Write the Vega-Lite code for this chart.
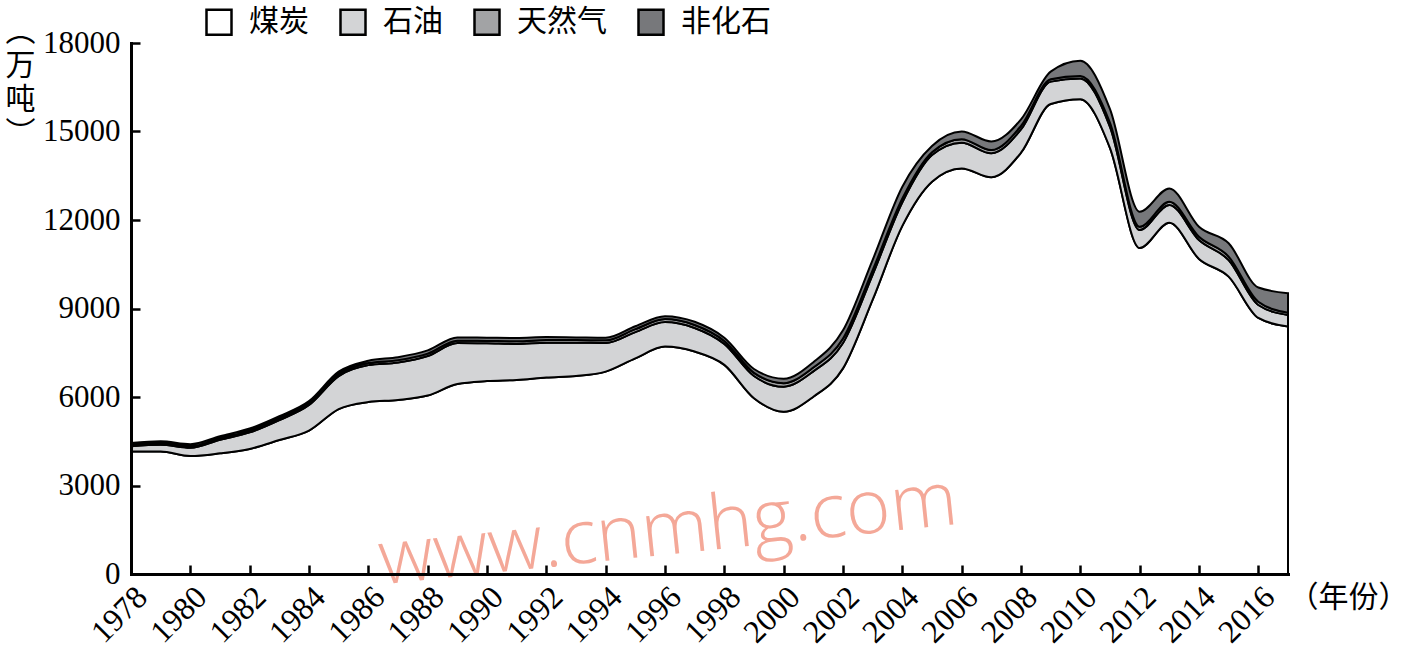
{
  "$schema": "https://vega.github.io/schema/vega-lite/v6.json",
  "width": 1157,
  "height": 531,
  "autosize": {"type": "none"},
  "padding": {"left": 131, "top": 43, "right": 118, "bottom": 77},
  "background": "white",
  "config": {"view": {"stroke": null}},
  "datasets": {
    "energy": [
      {"year":1978,"type":"煤炭","k":1,"v":4150},{"year":1978,"type":"石油","k":2,"v":180},{"year":1978,"type":"天然气","k":3,"v":50},{"year":1978,"type":"非化石","k":4,"v":60},
      {"year":1979,"type":"煤炭","k":1,"v":4150},{"year":1979,"type":"石油","k":2,"v":230},{"year":1979,"type":"天然气","k":3,"v":50},{"year":1979,"type":"非化石","k":4,"v":70},
      {"year":1980,"type":"煤炭","k":1,"v":4000},{"year":1980,"type":"石油","k":2,"v":280},{"year":1980,"type":"天然气","k":3,"v":50},{"year":1980,"type":"非化石","k":4,"v":70},
      {"year":1981,"type":"煤炭","k":1,"v":4090},{"year":1981,"type":"石油","k":2,"v":460},{"year":1981,"type":"天然气","k":3,"v":50},{"year":1981,"type":"非化石","k":4,"v":70},
      {"year":1982,"type":"煤炭","k":1,"v":4240},{"year":1982,"type":"石油","k":2,"v":560},{"year":1982,"type":"天然气","k":3,"v":60},{"year":1982,"type":"非化石","k":4,"v":70},
      {"year":1983,"type":"煤炭","k":1,"v":4540},{"year":1983,"type":"石油","k":2,"v":680},{"year":1983,"type":"天然气","k":3,"v":60},{"year":1983,"type":"非化石","k":4,"v":70},
      {"year":1984,"type":"煤炭","k":1,"v":4860},{"year":1984,"type":"石油","k":2,"v":870},{"year":1984,"type":"天然气","k":3,"v":60},{"year":1984,"type":"非化石","k":4,"v":70},
      {"year":1985,"type":"煤炭","k":1,"v":5590},{"year":1985,"type":"石油","k":2,"v":1120},{"year":1985,"type":"天然气","k":3,"v":70},{"year":1985,"type":"非化石","k":4,"v":80},
      {"year":1986,"type":"煤炭","k":1,"v":5830},{"year":1986,"type":"石油","k":2,"v":1250},{"year":1986,"type":"天然气","k":3,"v":70},{"year":1986,"type":"非化石","k":4,"v":80},
      {"year":1987,"type":"煤炭","k":1,"v":5900},{"year":1987,"type":"石油","k":2,"v":1270},{"year":1987,"type":"天然气","k":3,"v":80},{"year":1987,"type":"非化石","k":4,"v":100},
      {"year":1988,"type":"煤炭","k":1,"v":6050},{"year":1988,"type":"石油","k":2,"v":1340},{"year":1988,"type":"天然气","k":3,"v":80},{"year":1988,"type":"非化石","k":4,"v":110},
      {"year":1989,"type":"煤炭","k":1,"v":6440},{"year":1989,"type":"石油","k":2,"v":1390},{"year":1989,"type":"天然气","k":3,"v":80},{"year":1989,"type":"非化石","k":4,"v":110},
      {"year":1990,"type":"煤炭","k":1,"v":6540},{"year":1990,"type":"石油","k":2,"v":1280},{"year":1990,"type":"天然气","k":3,"v":80},{"year":1990,"type":"非化石","k":4,"v":110},
      {"year":1991,"type":"煤炭","k":1,"v":6580},{"year":1991,"type":"石油","k":2,"v":1220},{"year":1991,"type":"天然气","k":3,"v":90},{"year":1991,"type":"非化石","k":4,"v":110},
      {"year":1992,"type":"煤炭","k":1,"v":6660},{"year":1992,"type":"石油","k":2,"v":1180},{"year":1992,"type":"天然气","k":3,"v":90},{"year":1992,"type":"非化石","k":4,"v":100},
      {"year":1993,"type":"煤炭","k":1,"v":6710},{"year":1993,"type":"石油","k":2,"v":1130},{"year":1993,"type":"天然气","k":3,"v":90},{"year":1993,"type":"非化石","k":4,"v":90},
      {"year":1994,"type":"煤炭","k":1,"v":6860},{"year":1994,"type":"石油","k":2,"v":970},{"year":1994,"type":"天然气","k":3,"v":90},{"year":1994,"type":"非化石","k":4,"v":90},
      {"year":1995,"type":"煤炭","k":1,"v":7310},{"year":1995,"type":"石油","k":2,"v":890},{"year":1995,"type":"天然气","k":3,"v":100},{"year":1995,"type":"非化石","k":4,"v":100},
      {"year":1996,"type":"煤炭","k":1,"v":7710},{"year":1996,"type":"石油","k":2,"v":830},{"year":1996,"type":"天然气","k":3,"v":100},{"year":1996,"type":"非化石","k":4,"v":100},
      {"year":1997,"type":"煤炭","k":1,"v":7540},{"year":1997,"type":"石油","k":2,"v":800},{"year":1997,"type":"天然气","k":3,"v":100},{"year":1997,"type":"非化石","k":4,"v":110},
      {"year":1998,"type":"煤炭","k":1,"v":7090},{"year":1998,"type":"石油","k":2,"v":710},{"year":1998,"type":"天然气","k":3,"v":100},{"year":1998,"type":"非化石","k":4,"v":110},
      {"year":1999,"type":"煤炭","k":1,"v":5960},{"year":1999,"type":"石油","k":2,"v":750},{"year":1999,"type":"天然气","k":3,"v":110},{"year":1999,"type":"非化石","k":4,"v":130},
      {"year":2000,"type":"煤炭","k":1,"v":5500},{"year":2000,"type":"石油","k":2,"v":850},{"year":2000,"type":"天然气","k":3,"v":120},{"year":2000,"type":"非化石","k":4,"v":150},
      {"year":2001,"type":"煤炭","k":1,"v":6010},{"year":2001,"type":"石油","k":2,"v":860},{"year":2001,"type":"天然气","k":3,"v":130},{"year":2001,"type":"非化石","k":4,"v":180},
      {"year":2002,"type":"煤炭","k":1,"v":6970},{"year":2002,"type":"石油","k":2,"v":860},{"year":2002,"type":"天然气","k":3,"v":150},{"year":2002,"type":"非化石","k":4,"v":280},
      {"year":2003,"type":"煤炭","k":1,"v":9300},{"year":2003,"type":"石油","k":2,"v":850},{"year":2003,"type":"天然气","k":3,"v":150},{"year":2003,"type":"非化石","k":4,"v":350},
      {"year":2004,"type":"煤炭","k":1,"v":11800},{"year":2004,"type":"石油","k":2,"v":800},{"year":2004,"type":"天然气","k":3,"v":130},{"year":2004,"type":"非化石","k":4,"v":400},
      {"year":2005,"type":"煤炭","k":1,"v":13300},{"year":2005,"type":"石油","k":2,"v":900},{"year":2005,"type":"天然气","k":3,"v":100},{"year":2005,"type":"非化石","k":4,"v":210},
      {"year":2006,"type":"煤炭","k":1,"v":13750},{"year":2006,"type":"石油","k":2,"v":870},{"year":2006,"type":"天然气","k":3,"v":120},{"year":2006,"type":"非化石","k":4,"v":260},
      {"year":2007,"type":"煤炭","k":1,"v":13450},{"year":2007,"type":"石油","k":2,"v":810},{"year":2007,"type":"天然气","k":3,"v":110},{"year":2007,"type":"非化石","k":4,"v":290},
      {"year":2008,"type":"煤炭","k":1,"v":14280},{"year":2008,"type":"石油","k":2,"v":790},{"year":2008,"type":"天然气","k":3,"v":120},{"year":2008,"type":"非化石","k":4,"v":220},
      {"year":2009,"type":"煤炭","k":1,"v":15930},{"year":2009,"type":"石油","k":2,"v":760},{"year":2009,"type":"天然气","k":3,"v":80},{"year":2009,"type":"非化石","k":4,"v":260},
      {"year":2010,"type":"煤炭","k":1,"v":16090},{"year":2010,"type":"石油","k":2,"v":710},{"year":2010,"type":"天然气","k":3,"v":80},{"year":2010,"type":"非化石","k":4,"v":520},
      {"year":2011,"type":"煤炭","k":1,"v":14440},{"year":2011,"type":"石油","k":2,"v":720},{"year":2011,"type":"天然气","k":3,"v":130},{"year":2011,"type":"非化石","k":4,"v":470},
      {"year":2012,"type":"煤炭","k":1,"v":11050},{"year":2012,"type":"石油","k":2,"v":610},{"year":2012,"type":"天然气","k":3,"v":110},{"year":2012,"type":"非化石","k":4,"v":510},
      {"year":2013,"type":"煤炭","k":1,"v":11910},{"year":2013,"type":"石油","k":2,"v":600},{"year":2013,"type":"天然气","k":3,"v":110},{"year":2013,"type":"非化石","k":4,"v":450},
      {"year":2014,"type":"煤炭","k":1,"v":10680},{"year":2014,"type":"石油","k":2,"v":640},{"year":2014,"type":"天然气","k":3,"v":110},{"year":2014,"type":"非化石","k":4,"v":340},
      {"year":2015,"type":"煤炭","k":1,"v":10080},{"year":2015,"type":"石油","k":2,"v":560},{"year":2015,"type":"天然气","k":3,"v":120},{"year":2015,"type":"非化石","k":4,"v":450},
      {"year":2016,"type":"煤炭","k":1,"v":8680},{"year":2016,"type":"石油","k":2,"v":440},{"year":2016,"type":"天然气","k":3,"v":110},{"year":2016,"type":"非化石","k":4,"v":480},
      {"year":2017,"type":"煤炭","k":1,"v":8390},{"year":2017,"type":"石油","k":2,"v":390},{"year":2017,"type":"天然气","k":3,"v":80},{"year":2017,"type":"非化石","k":4,"v":660}
    ],
    "mark": [{"year": 1996.1, "v": 1450, "s": "www.cnmhg.com"}]
  },
  "layer": [
    {
      "data": {"name": "energy"},
      "mark": {"type": "area", "interpolate": "monotone", "stroke": "black", "strokeWidth": 2, "fillOpacity": 1},
      "encoding": {
        "x": {
          "field": "year", "type": "quantitative",
          "scale": {"domain": [1978, 2017], "nice": false, "zero": false},
          "axis": {
            "values": [1978,1979,1980,1981,1982,1983,1984,1985,1986,1987,1988,1989,1990,1991,1992,1993,1994,1995,1996,1997,1998,1999,2000,2001,2002,2003,2004,2005,2006,2007,2008,2009,2010,2011,2012,2013,2014,2015,2016,2017],
            "format": "d",
            "labelExpr": "datum.value % 2 === 0 && datum.value < 2017 ? datum.label : ''",
            "labelAngle": -45, "labelAlign": "right", "labelBaseline": "top",
            "labelFont": "Liberation Serif", "labelFontSize": 32, "labelColor": "black",
            "labelPadding": 16, "labelDx": 6, "labelOverlap": false, "labelBound": false, "labelFlush": false,
            "tickSize": -9, "tickWidth": 2.5, "tickColor": "black",
            "domainWidth": 3, "domainColor": "black", "domainCap": "square",
            "grid": false, "zindex": 1,
            "title": "（年份）", "titleFont": "Noto Sans CJK SC", "titleFontSize": 30, "titleFontWeight": "normal",
            "titleColor": "black", "titleX": 1217, "titleY": 23, "titleAlign": "center", "titleBaseline": "middle", "titleAngle": 0
          }
        },
        "y": {
          "field": "v", "type": "quantitative", "stack": "zero",
          "scale": {"domain": [0, 18000], "nice": false},
          "axis": {
            "values": [0, 3000, 6000, 9000, 12000, 15000, 18000],
            "format": "d",
            "labelFont": "Liberation Serif", "labelFontSize": 31, "labelColor": "black",
            "labelPadding": 20, "labelFlush": false, "labelOverlap": false,
            "tickSize": -9, "tickWidth": 2.5, "tickColor": "black",
            "domainWidth": 3, "domainColor": "black", "domainCap": "square",
            "grid": false, "zindex": 1,
            "title": ["︵", "万", "吨", "︶"], "titleFont": "Noto Sans CJK SC", "titleFontSize": 30, "titleFontWeight": "normal",
            "titleColor": "black", "titleAngle": 0, "titleX": -111, "titleY": -27, "titleAlign": "center", "titleBaseline": "top", "titleLineHeight": 34
          }
        },
        "fill": {
          "field": "type", "type": "nominal",
          "scale": {"domain": ["煤炭", "石油", "天然气", "非化石"], "range": ["#ffffff", "#d3d4d6", "#a2a3a5", "#77787b"]},
          "legend": {
            "title": null, "orient": "none", "direction": "horizontal", "legendX": 73, "legendY": -36,
            "symbolType": "square", "symbolSize": 625, "symbolStrokeColor": "black", "symbolStrokeWidth": 2.5, "symbolOpacity": 1,
            "labelFont": "Noto Sans CJK SC", "labelFontSize": 30, "labelColor": "black", "labelOffset": 15,
            "columnPadding": 26, "padding": 0, "labelLimit": 300
          }
        },
        "order": {"field": "k", "type": "quantitative", "sort": "ascending"}
      }
    },
    {
      "data": {"name": "mark"},
      "mark": {"type": "text", "angle": -6, "fontSize": 76, "font": "Open Sans", "fontWeight": 300, "color": "#f4a898", "align": "center", "baseline": "middle"},
      "encoding": {
        "x": {"field": "year", "type": "quantitative"},
        "y": {"field": "v", "type": "quantitative"},
        "text": {"field": "s"}
      }
    }
  ]
}
